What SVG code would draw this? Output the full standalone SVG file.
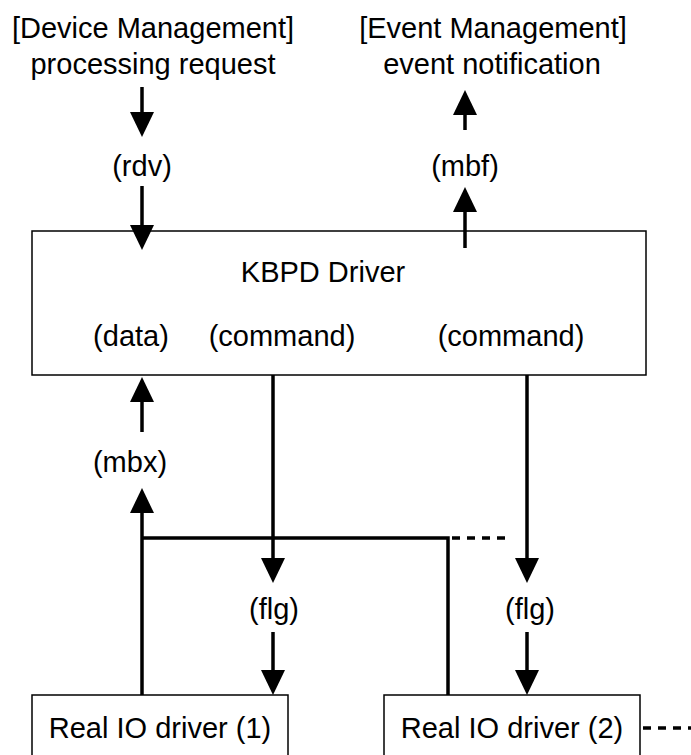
<svg xmlns="http://www.w3.org/2000/svg" width="691" height="755" viewBox="0 0 691 755">
<style>
text{font-family:"Liberation Sans",Arial,sans-serif;font-size:29px;fill:#000;text-anchor:middle}
.box{fill:#fff;stroke:#000;stroke-width:1.5}
.c{fill:none;stroke:#000;stroke-width:3.5}
.a{marker-end:url(#ah)}
.d{fill:none;stroke:#000;stroke-width:3.5;stroke-dasharray:8 7}
</style>
<defs>
<marker id="ah" markerUnits="userSpaceOnUse" markerWidth="26" markerHeight="26" refX="0" refY="12" orient="auto" viewBox="0 0 26 24" overflow="visible">
<path d="M0,0 L25,12 L0,24 z" fill="#000"/>
</marker>
</defs>
<g id="title-device"><text x="153" y="38">[Device Management]</text><text x="153" y="74">processing request</text></g>
<g id="title-event"><text x="493" y="38">[Event Management]</text><text x="492" y="74">event notification</text></g>
<g id="kbpd"><rect class="box" x="32" y="231" width="614" height="144"/>
<text x="323" y="282">KBPD Driver</text>
<text x="131" y="346">(data)</text><text x="282" y="346">(command)</text><text x="511" y="346">(command)</text></g>
<g id="rio1"><rect class="box" x="32" y="695" width="256" height="80"/><text x="160" y="738">Real IO driver (1)</text></g>
<g id="rio2"><rect class="box" x="384" y="695" width="256" height="80"/><text x="512" y="738">Real IO driver (2)</text></g>
<g id="connectors">
<path class="c a" d="M142,87 V112"/>
<text x="142" y="176">(rdv)</text>
<path class="c a" d="M142,186 V225"/>
<path class="c a" d="M465,130 V115"/>
<text x="465" y="176">(mbf)</text>
<path class="c a" d="M465,248 V212"/>
<path class="c a" d="M142,432 V402"/>
<text x="130" y="472">(mbx)</text>
<path class="c a" d="M142,695 V513"/>
<path class="c" d="M142,538 H448 V695"/>
<path class="d" d="M452,538 H505"/>
<path class="c a" d="M273,375 V558"/>
<path class="c a" d="M527,375 V558"/>
<text x="274" y="619">(flg)</text>
<text x="530" y="619">(flg)</text>
<path class="c a" d="M273,632 V670"/>
<path class="c a" d="M527,632 V670"/>
<path class="d" d="M643,728 H691"/>
</g>
</svg>
